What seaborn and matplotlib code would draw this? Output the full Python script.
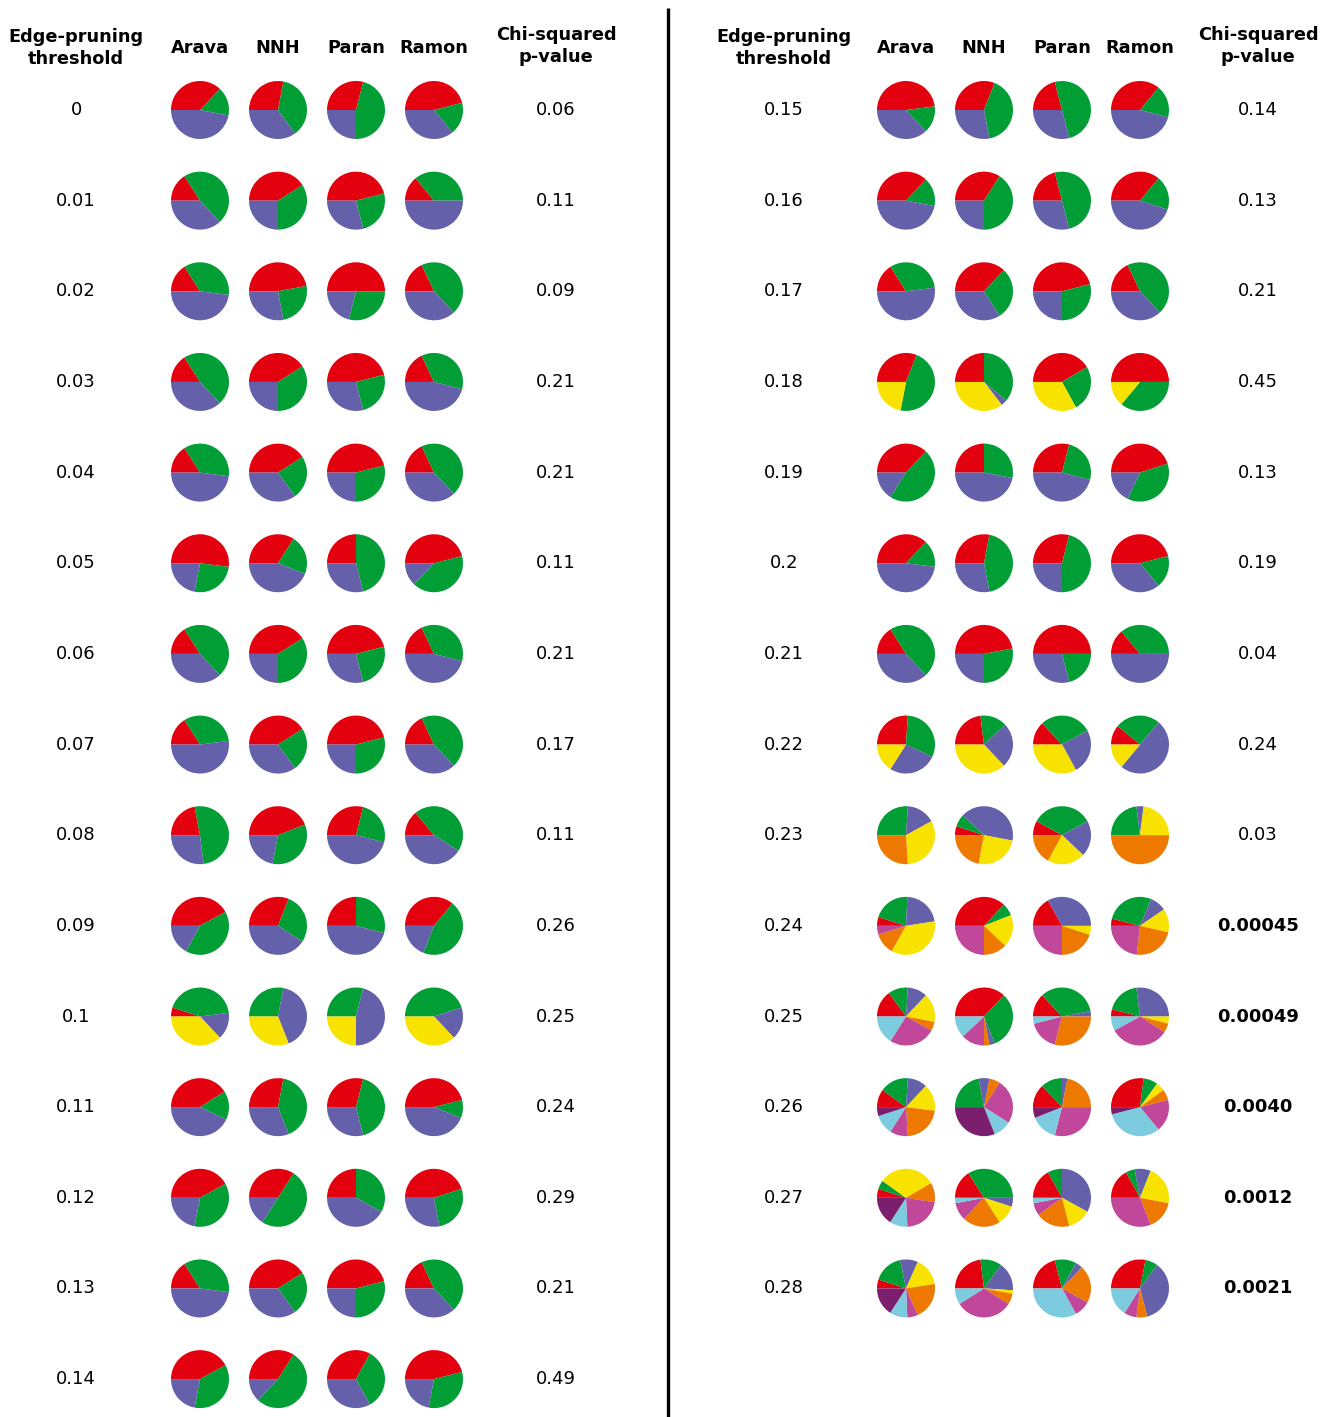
import matplotlib
matplotlib.use("Agg")
import matplotlib.pyplot as plt
import seaborn as sns

# ---------------------------------------------------------------------------
# Data
# ---------------------------------------------------------------------------
sites = ["Arava", "NNH", "Paran", "Ramon"]

thresholds = ["0", "0.01", "0.02", "0.03", "0.04", "0.05", "0.06", "0.07",
              "0.08", "0.09", "0.1", "0.11", "0.12", "0.13", "0.14",
              "0.15", "0.16", "0.17", "0.18", "0.19", "0.2", "0.21", "0.22",
              "0.23", "0.24", "0.25", "0.26", "0.27", "0.28"]

pvalues = ["0.06", "0.11", "0.09", "0.21", "0.21", "0.11", "0.21", "0.17",
           "0.11", "0.26", "0.25", "0.24", "0.29", "0.21", "0.49",
           "0.14", "0.13", "0.21", "0.45", "0.13", "0.19", "0.04", "0.24",
           "0.03", "0.00045", "0.00049", "0.0040", "0.0012", "0.0021"]

significant = [False] * 24 + [True] * 5

# Cluster colours, in clockwise order from 9 o'clock
cluster_colors = sns.color_palette(["#e3000f", "#009e35", "#6461aa", "#f8e300",
                                    "#ee7900", "#c0479a", "#7ccbdf", "#7b1e6e"])

# Cluster composition (%) of each site at each threshold
arava = [
    [37, 16, 47], [16, 47, 37], [16, 36, 48], [16, 47, 37], [16, 36, 48],
    [52, 26, 22], [16, 47, 37], [16, 32, 52], [22, 51, 27], [42, 41, 17],
    [5, 43, 15, 37], [41, 16, 43], [42, 36, 22], [16, 36, 48], [42, 36, 22],
    [48, 15, 37], [37, 16, 47], [16, 32, 52], [31, 47, 0, 22], [37, 47, 16],
    [37, 15, 48], [16, 47, 37], [26, 31, 27, 16], [0, 26, 16, 32, 26],
    [5, 21, 22, 36, 12, 5], [15, 11, 11, 16, 5, 26, 16],
    [10, 16, 11, 15, 22, 10, 11, 5], [5, 5, 0, 32, 11, 22, 10, 16],
    [5, 17, 10, 16, 21, 6, 10, 16],
]
nnh = [
    [28, 37, 35], [41, 34, 25], [47, 25, 28], [41, 34, 25], [41, 24, 35],
    [34, 22, 44], [41, 34, 25], [41, 24, 35], [44, 34, 22], [31, 28, 41],
    [0, 28, 41, 31], [28, 41, 31], [34, 50, 16], [41, 24, 35], [34, 53, 13],
    [31, 41, 28], [34, 41, 25], [37, 29, 34], [25, 36, 3.5, 35.5], [25, 28, 47],
    [28, 44, 28], [47, 28, 25], [23, 15, 25, 37], [5, 7, 41, 25, 22],
    [37, 7, 0, 18, 13, 25], [37, 32, 3, 0, 3, 13, 12],
    [0, 22, 6, 0, 6, 25, 10, 31], [16, 34, 5, 11, 21, 10, 3, 0],
    [23, 12, 16, 2, 6, 32, 9, 0],
]
paran = [
    [29, 46, 25], [46, 25, 29], [50, 29, 21], [46, 25, 29], [46, 29, 25],
    [25, 46, 29], [46, 25, 29], [46, 29, 25], [29, 25, 46], [25, 29, 46],
    [0, 29, 46, 25], [29, 42, 29], [25, 33, 42], [46, 29, 25], [33, 34, 33],
    [21, 50, 29], [21, 50, 29], [46, 29, 25], [41.5, 25.5, 0, 33], [29, 25, 46],
    [29, 46, 25], [50, 21, 29], [13, 29, 25, 33], [8, 34, 20, 21, 17],
    [17, 0, 33, 5, 20, 25], [13, 34, 3, 0, 29, 17, 4],
    [13, 12, 3, 0, 22, 29, 15, 6], [17, 8, 33, 13, 19, 7, 3, 0],
    [21, 12, 4, 0, 21, 9, 33, 0],
]
ramon = [
    [46, 18, 36], [14, 36, 50], [18, 45, 37], [18, 36, 46], [18, 45, 37],
    [46, 41, 13], [18, 36, 46], [18, 45, 37], [14, 45, 41], [36, 45, 19],
    [0, 45, 18, 37], [46, 10, 44], [45, 27, 28], [18, 45, 37], [46, 32, 22],
    [36, 18, 46], [36, 19, 45], [18, 45, 37], [50, 36, 0, 14], [45, 37, 18],
    [46, 18, 36], [14, 36, 50], [11, 25, 50, 14], [0, 23, 4, 23, 50],
    [4, 27, 9, 13, 23, 23], [4, 19, 27, 4, 5, 33, 8],
    [27, 8, 0, 5, 6, 18, 32, 4], [17, 5, 9, 22, 16, 31, 0, 0],
    [28, 7, 36, 0, 6, 7, 16, 0],
]
compositions = [arava, nnh, paran, ramon]

# ---------------------------------------------------------------------------
# Layout (figure drawn in pixel units, y measured from the top)
# ---------------------------------------------------------------------------
W, H = 1334, 1417
ROWS_LEFT = 15
row_y0, row_step = 110, 90.65
pie_r = 29
panels = [
    dict(thr_x=76, pie_x=[200, 278, 356, 434], p_x=556),
    dict(thr_x=784, pie_x=[906, 984, 1062, 1140], p_x=1258),
]

sns.set_theme(style="white")
plt.rcParams["font.family"] = ["DejaVu Sans"]
plt.rcParams["text.color"] = "black"

fig = plt.figure(figsize=(W / 100, H / 100), dpi=100)
ax = fig.add_axes([0, 0, 1, 1])


def Y(py):
    return H - py


for i, thr in enumerate(thresholds):
    panel = panels[0] if i < ROWS_LEFT else panels[1]
    row = i if i < ROWS_LEFT else i - ROWS_LEFT
    py = row_y0 + row * row_step
    ax.text(panel["thr_x"], Y(py), thr, ha="center", va="center",
            fontsize=13, color="black")
    ax.text(panel["p_x"], Y(py), pvalues[i], ha="center", va="center",
            fontsize=13, color="black",
            fontweight="bold" if significant[i] else "normal")
    for s, comp in enumerate(compositions):
        vals = comp[i]
        sizes = [v for v in vals if v > 0]
        cols = [cluster_colors[k] for k, v in enumerate(vals) if v > 0]
        ax.pie(sizes, colors=cols, startangle=180, counterclock=False,
               center=(panel["pie_x"][s], Y(py)), radius=pie_r,
               wedgeprops=dict(linewidth=0))

# Column headers
for panel in panels:
    ax.text(panel["thr_x"], Y(48), "Edge-pruning\nthreshold", ha="center",
            va="center", fontsize=12.8, fontweight="bold", linespacing=1.3,
            color="black")
    for s, name in enumerate(sites):
        ax.text(panel["pie_x"][s], Y(48), name, ha="center", va="center",
                fontsize=12.8, fontweight="bold", color="black")
    ax.text(panel["p_x"], Y(46), "Chi-squared\np-value", ha="center",
            va="center", fontsize=12.8, fontweight="bold", linespacing=1.3,
            color="black")

# Divider between the two halves
ax.plot([668, 668], [Y(8), Y(H)], color="black", linewidth=2.4,
        solid_capstyle="butt")

ax.set_xlim(0, W)
ax.set_ylim(0, H)
ax.set_aspect("auto")
ax.axis("off")

fig.savefig("out.png", dpi=100, facecolor="white")
